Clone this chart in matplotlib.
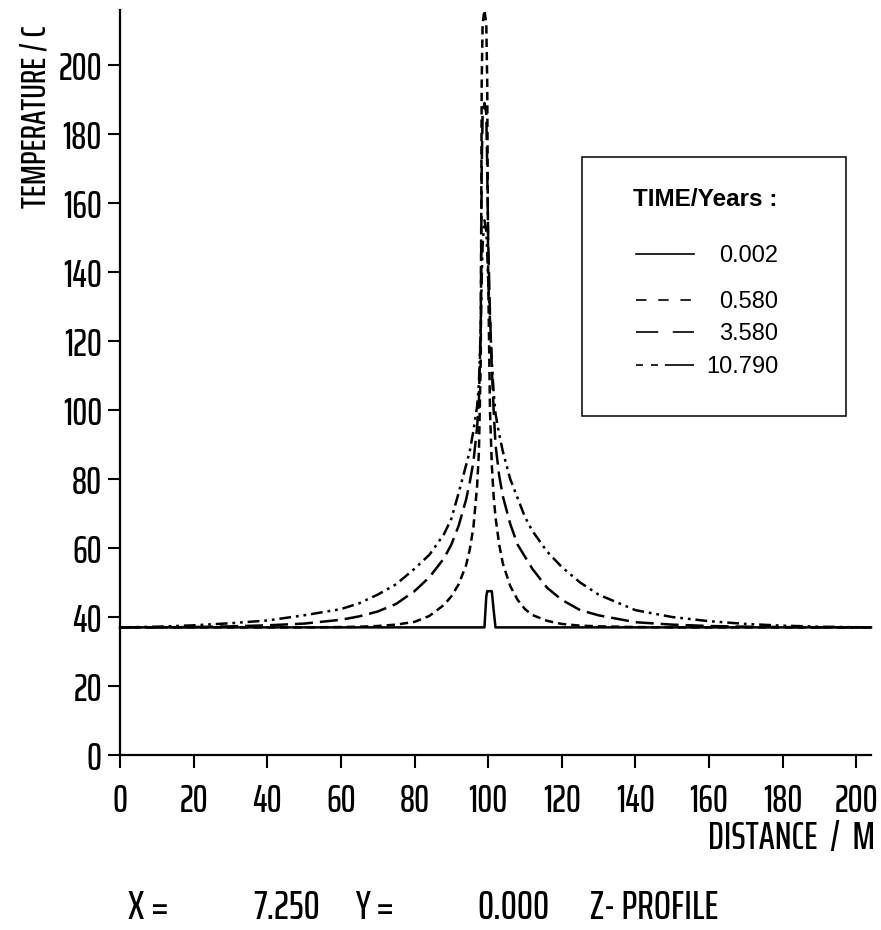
import matplotlib
matplotlib.use("Agg")
import matplotlib.pyplot as plt
from matplotlib.lines import Line2D
from matplotlib.patches import Rectangle

plt.rcParams['lines.scale_dashes'] = False

# plotter-style lettering, with a fallback if the narrow face is missing
PLOT_FONT = ['Saira ExtraCondensed', 'DejaVu Sans']
KEY_FONT = ['Liberation Sans', 'DejaVu Sans']

# distance along the profile (m)
dist = [0, 10, 20, 30, 40, 50, 60, 65, 70, 75, 80, 84, 88, 90, 92, 94, 95, 96, 97, 97.5,
        98, 98.25, 98.5, 99, 99.5, 99.75, 100, 100.5, 101, 101.5, 102, 103, 104, 106, 108, 110,
        112, 116, 120, 125, 130, 140, 150, 160, 170, 180, 190, 204]

# temperature (C) at each time step
t_0002 = [37, 37, 37, 37, 37, 37, 37, 37, 37, 37, 37, 37, 37, 37, 37, 37, 37, 37, 37, 37,
          37, 37, 37, 37, 46, 47.5, 47.5, 47.5, 47.5, 42, 37, 37, 37, 37, 37, 37,
          37, 37, 37, 37, 37, 37, 37, 37, 37, 37, 37, 37]
t_0580 = [37, 37, 37, 37, 37, 37, 37.1, 37.2, 37.4, 37.8, 38.6, 40.3, 43.5, 46, 49.5, 55, 59.5, 66, 78, 88,
          115, 195, 212, 216, 212, 195, 140, 100, 84, 75, 69, 61, 55.5, 49, 45, 42.3,
          40.6, 38.9, 38, 37.5, 37.3, 37.1, 37, 37, 37, 37, 37, 37]
t_3580 = [37, 37, 37.1, 37.3, 37.6, 38.1, 39.2, 40.2, 41.6, 43.8, 47.5, 51.5, 57, 61, 66.5, 74, 79, 85, 95, 103,
          125, 170, 186, 189, 186, 170, 150, 128, 112, 100, 90, 81, 75, 67, 61, 57.5,
          54, 48.5, 45, 42, 40.5, 38.5, 37.8, 37.4, 37.2, 37.1, 37, 37]
t_10790 = [37, 37.2, 37.6, 38.2, 39, 40.5, 42.3, 44, 46.5, 49.5, 54, 58, 64, 68.5, 76, 84, 88, 94, 101, 108,
           124, 138, 148, 155, 152, 146, 138, 126, 114, 105, 99, 93, 88, 80, 74.5, 69,
           65, 59, 54.5, 50, 46.5, 42, 40, 38.8, 38, 37.5, 37.2, 37]

times = ['0.002', '0.580', '3.580', '10.790']
curves = [t_0002, t_0580, t_3580, t_10790]
# dash patterns in points: solid, short dash, long dash, dash-dot-dot
plot_dashes = [None, (6, 3.6), (13, 5), (8.5, 3.5, 2, 3.5, 2, 3.5)]
key_dashes = [None, (7.5, 8.5), (16, 10.5), (5, 5.8, 5, 5, 22, 5)]

yticks = list(range(0, 201, 20))
xticks = list(range(0, 201, 20))

W, H = 881, 930
fig = plt.figure(figsize=(W / 100, H / 100), dpi=100)


def fx(px):
    return px / W


def fy(py):
    return 1 - py / H


ax = fig.add_axes([fx(120), fy(755), 751 / W, 745 / H])

for temps, dsh in zip(curves, plot_dashes):
    line, = ax.plot(dist, temps, color='black', lw=1.8, clip_on=False,
                    solid_joinstyle='round', dash_joinstyle='round')
    if dsh is not None:
        line.set_dashes(dsh)

ax.set_xlim(0, 204)
ax.set_ylim(0, 216)
for side in ['top', 'right']:
    ax.spines[side].set_visible(False)
for side in ['left', 'bottom']:
    ax.spines[side].set_linewidth(1.6)

ax.set_xticks(xticks)
ax.set_yticks(yticks)
ax.set_xticklabels([str(v) for v in xticks])
ax.set_yticklabels([str(v) for v in yticks])
ax.tick_params(axis='y', direction='out', length=9, width=1.5, pad=4)
ax.tick_params(axis='x', direction='out', length=9, width=1.5, pad=11)
for lab in ax.get_xticklabels() + ax.get_yticklabels():
    lab.set_fontfamily(PLOT_FONT)
    lab.set_fontsize(27)
    lab.set_fontweight(500)

# axis titles
fig.text(fx(36), fy(117), 'TEMPERATURE / C', rotation=90, ha='center', va='center',
         family=PLOT_FONT, fontsize=25, fontweight=500)
fig.text(fx(875), fy(838), 'DISTANCE  /  M', ha='right', va='center',
         family=PLOT_FONT, fontsize=28, fontweight=500)

# profile location line under the plot
for px, s in [(128, 'X ='), (253, '7.250'), (355, 'Y ='), (477, '0.000'), (590, 'Z- PROFILE')]:
    fig.text(fx(px), fy(908), s, ha='left', va='center',
             family=PLOT_FONT, fontsize=29, fontweight=500)

# legend box
fig.add_artist(Rectangle((fx(582), fy(416)), (846 - 582) / W, (416 - 157) / H,
                         transform=fig.transFigure, fill=False, lw=1.1, ec='black'))
fig.text(fx(705), fy(200), 'TIME/Years :', ha='center', va='center',
         family=KEY_FONT, fontsize=17.5, fontweight='bold')
row_y = [256, 302, 334, 367]
for lbl, ry, dsh in zip(times, row_y, key_dashes):
    handle = Line2D([fx(636), fx(694)], [fy(ry - 2), fy(ry - 2)], transform=fig.transFigure,
                    color='black', lw=1.2)
    if dsh is not None:
        handle.set_dashes(dsh)
    fig.add_artist(handle)
    fig.text(fx(778), fy(ry), lbl, ha='right', va='center',
             family=KEY_FONT, fontsize=17)

fig.savefig('out.png', dpi=100)
